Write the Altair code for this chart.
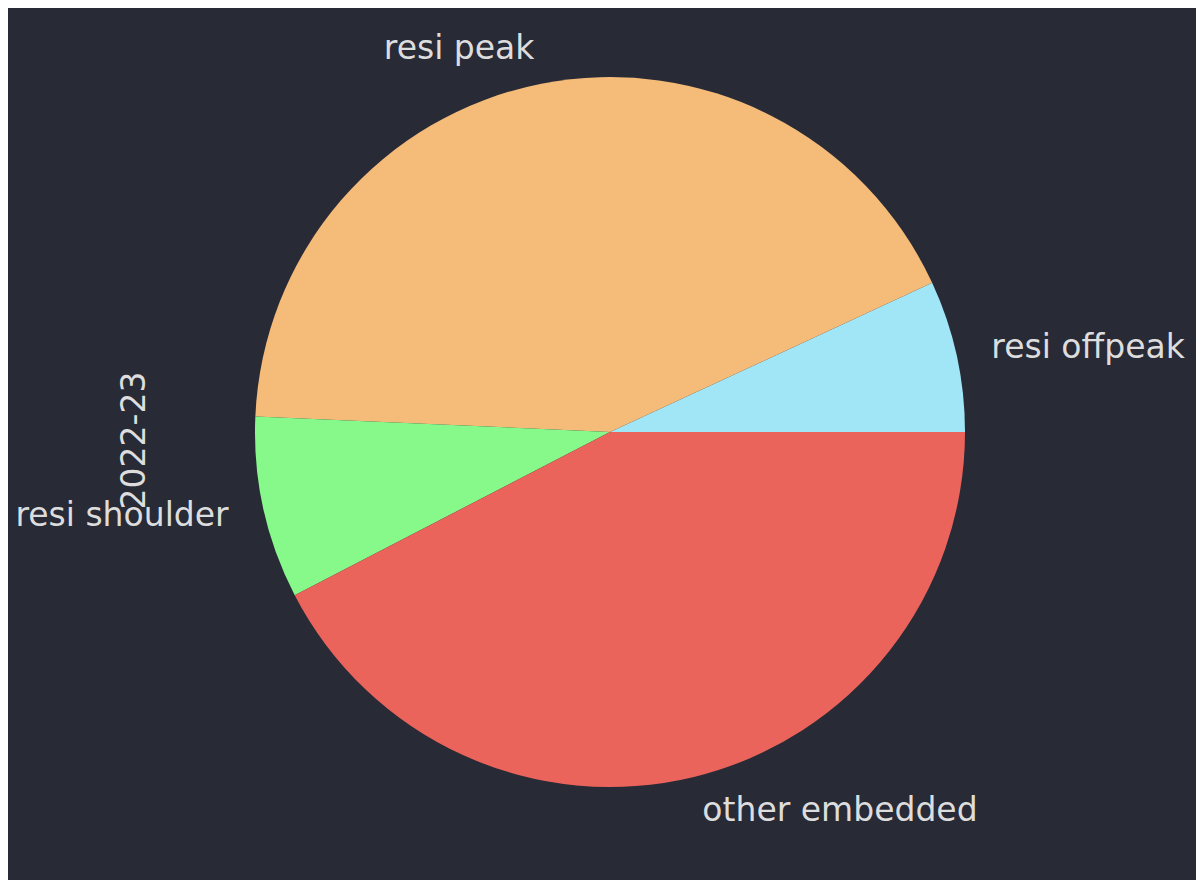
import math
import altair as alt
import pandas as pd

# ---- data ----
labels = ["resi offpeak", "resi peak", "resi shoulder", "other embedded"]
values = [6.9, 42.4, 8.3, 42.4]
colors = ["#a1e6f7", "#f5bb78", "#87f98a", "#ea645c"]
ylabel = "2022-23"

df = pd.DataFrame({"label": labels, "value": values, "idx": list(range(len(labels)))})

BG = "#282a36"
TXT = "#dddddd"
FONT = "DejaVu Sans"
FS = 33
W = H = 710
R = W / 2
# matplotlib style: start at 3 o'clock, counter-clockwise
theta_range = [2.5 * math.pi, 0.5 * math.pi]

base = alt.Chart(df)

pie = base.mark_arc(outerRadius=R).encode(
    theta=alt.Theta("value:Q", stack=True, scale=alt.Scale(range=theta_range)),
    color=alt.Color("label:N", scale=alt.Scale(domain=labels, range=colors), legend=None),
    order=alt.Order("idx:Q"),
)

lab = (
    base.transform_window(cum="sum(value)", sort=[alt.SortField("idx")], frame=[None, 0])
    .transform_joinaggregate(total="sum(value)")
    .transform_calculate(mid="(datum.cum - datum.value / 2) / datum.total")
)

text_kw = dict(radius=R * 1.1, baseline="middle", fontSize=FS, font=FONT, color=TXT)
theta_lab = alt.Theta("mid:Q", stack=False, scale=alt.Scale(domain=[0, 1], range=theta_range))

right_labels = lab.transform_filter("cos(2 * PI * datum.mid) >= 0").mark_text(
    align="left", **text_kw
).encode(theta=theta_lab, text="label:N")

left_labels = lab.transform_filter("cos(2 * PI * datum.mid) < 0").mark_text(
    align="right", **text_kw
).encode(theta=theta_lab, text="label:N")

# invisible layer that only carries the y-axis title ("ylabel")
yaxis = base.mark_rule(opacity=0).encode(
    y=alt.Y(
        "value:Q",
        axis=alt.Axis(
            title=ylabel,
            labels=False,
            ticks=False,
            domain=False,
            grid=False,
            titleFont=FONT,
            titleFontSize=FS,
            titleFontWeight="normal",
            titleColor=TXT,
            titlePadding=104,
            titleY=H / 2 + 8,
        ),
    )
)

chart = (
    alt.layer(pie, left_labels, right_labels, yaxis)
    .resolve_scale(theta="independent")
    .properties(
        width=W,
        height=H,
        background=BG,
        padding={"left": 247, "top": 69, "right": 231, "bottom": 93},
        autosize=alt.AutoSizeParams(type="none"),
    )
    .configure_view(stroke=None)
)

chart.save("out.html", embed_options={"renderer": "svg", "actions": False})
